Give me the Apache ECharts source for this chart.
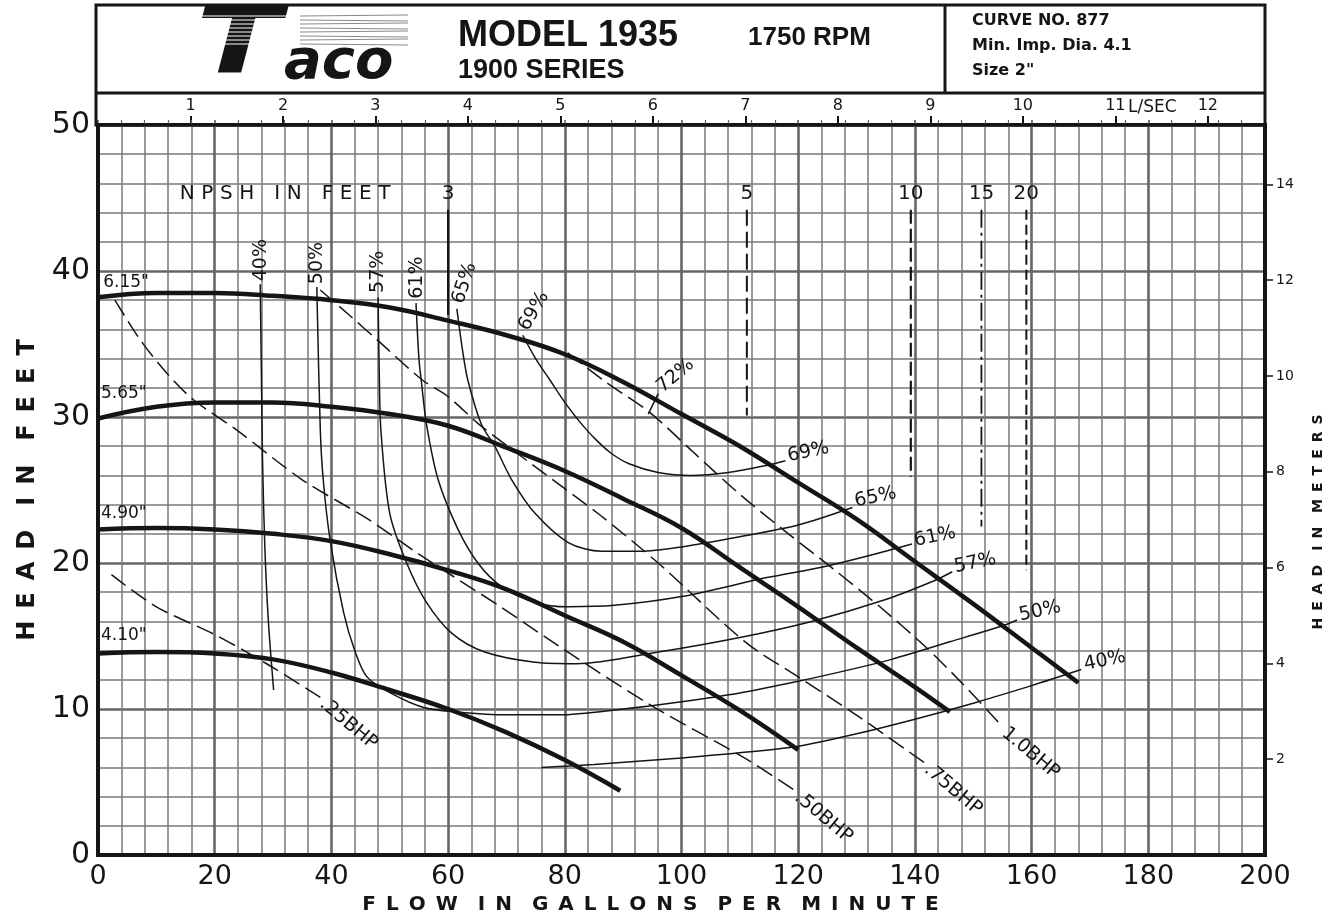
<!DOCTYPE html>
<html>
<head>
<meta charset="utf-8">
<title>Taco Model 1935 - Curve No. 877</title>
<script src="https://cdn.jsdelivr.net/npm/echarts@6/dist/echarts.min.js"></script>
<style>
  html, body { margin: 0; padding: 0; background: #fff; }
  #chart { width: 1338px; height: 923px; }
</style>
</head>
<body>
<div id="chart"></div>
<script>
// flow in US GPM, head in feet
const imp615 = [[0,38.2],[10,38.5],[20,38.5],[30,38.3],[40,38.0],[50,37.5],[60,36.6],[70,35.6],[80,34.3],[90,32.4],[100,30.2],[110,28.0],[120,25.5],[130,23.0],[140,20.1],[150,17.2],[160,14.2],[168,11.8]];
const imp565 = [[0,29.9],[10,30.7],[20,31.0],[30,31.0],[40,30.7],[50,30.2],[60,29.4],[70,27.9],[80,26.3],[90,24.4],[100,22.4],[110,19.7],[120,17.0],[130,14.2],[140,11.5],[146,9.8]];
const imp490 = [[0,22.3],[10,22.4],[20,22.3],[30,22.0],[40,21.5],[50,20.6],[60,19.5],[70,18.2],[80,16.4],[90,14.6],[100,12.3],[110,9.9],[120,7.2]];
const imp410 = [[0,13.8],[10,13.9],[20,13.8],[30,13.4],[40,12.5],[50,11.3],[60,10.0],[70,8.4],[80,6.5],[89.5,4.4]];

// efficiency lines
const eff40a = [[27.8,39.1],[28.0,33],[28.2,27],[28.6,21],[29.2,16],[30.1,11.3]];
const eff40b = [[76,6.0],[85,6.2],[100,6.65],[110,7.0],[120,7.45],[130,8.3],[140,9.3],[150,10.4],[160,11.6],[168.5,12.7]];
const eff50 = [[37.5,38.9],[38.1,29.1],[38.6,25.7],[39.8,21.5],[42.1,16.6],[44,14.0],[46.1,12.2],[50.1,11.1],[55.8,10.1],[61.5,9.8],[70,9.6],[79,9.6],[90,10.0],[100,10.5],[110,11.1],[120,11.9],[130,12.8],[136,13.4],[146,14.6],[155,15.7],[157.5,16.1]];
const eff57 = [[48,38.2],[48.2,33],[48.5,29],[50,23.4],[52.9,20.0],[56.3,17.3],[60.6,15.2],[66.3,13.9],[74.9,13.2],[82,13.1],[96,13.9],[110,14.9],[122.3,16.0],[135,17.5],[143.4,18.8],[146.4,19.4]];
const eff61 = [[54.5,37.8],[55.0,34],[55.4,32.5],[56.3,29.5],[58.3,25.7],[61.7,22.3],[65.1,20.0],[69.1,18.4],[74.9,17.3],[80.6,17.0],[88.5,17.1],[100,17.7],[114.6,19.0],[125,19.8],[139.5,21.3]];
const eff65 = [[61.5,37.4],[62.5,34.5],[63.4,32.5],[65.7,29.5],[68,28.0],[70.9,25.7],[74.9,23.4],[80.6,21.4],[86.3,20.8],[92.9,20.8],[100,21.1],[110,21.8],[120,22.6],[129.3,23.8]];
const eff69 = [[72.8,35.6],[75,34.0],[77.5,32.5],[80,31.0],[82.5,29.7],[85.2,28.5],[88,27.5],[91,26.8],[96,26.2],[101.6,26.0],[108,26.2],[114.8,26.7],[117.8,27.0]];
const eff72 = [[94.3,30.2],[96.0,31.6]];

// brake horsepower lines
const bhp25 = [[2.3,19.2],[10,17.0],[20,15.1],[28.9,13.1],[38.1,10.8]];
const bhp50 = [[2.9,38.0],[7.2,35.3],[11.8,33.0],[16.3,31.2],[23.8,29.1],[35,25.7],[46.3,23.0],[55,20.6],[69,17.0],[79,14.3],[95,10.2],[111,6.6],[119.5,4.4]];
const bhp75 = [[38.1,38.7],[43,37.0],[47.8,35.3],[55.7,32.5],[60,31.4],[65.3,29.5],[74.9,26.6],[86.3,23.2],[96,20.0],[110.9,14.6],[120,12.2],[130.3,9.5],[141.7,6.3]];
const bhp100 = [[80.5,34.4],[87,32.4],[94.6,30.3],[102,27.6],[110,24.7],[118,22.1],[126,19.6],[134,17.0],[141.7,14.3],[148,11.8],[155,8.8]];

// NPSH required (ft) marks
const npshNames = ['3', '5', '10', '15', '20'];
const npshFlow = [60, 111.2, 139.3, 151.4, 159.1];
const npshBottom = [37.0, 30.1, 25.9, 22.5, 19.5];
const npshTop = 44.2;
const npshLabelY = 45.3;

// text labels on the plot: [text, gpm, ft]
const impLabels = [['6.15"', 0.9, 39.2], ['5.65"', 0.5, 31.6], ['4.90"', 0.5, 23.4], ['4.10"', 0.5, 15.0]];
const effTopLabels = [['40%', 28.0, 39.3], ['50%', 37.6, 39.1], ['57%', 48.0, 38.5], ['61%', 54.6, 38.1], ['65%', 61.7, 37.8], ['69%', 72.9, 36.0], ['72%', 96.2, 31.9]];
const effEndLabels = [['69%', 118.2, 27.3], ['65%', 129.7, 24.2], ['61%', 139.9, 21.5], ['57%', 146.8, 19.7], ['50%', 157.9, 16.4], ['40%', 169.0, 13.0]];
const bhpLabels = [['.25BHP', 38.4, 10.5], ['.50BHP', 119.8, 4.1], ['.75BHP', 142.0, 6.0], ['1.0BHP', 155.3, 8.5]];
const npshTitle = ['NPSH IN FEET', 14.0, 45.3];

// axis tick labels
const lpsTicks = [1, 2, 3, 4, 5, 6, 7, 8, 9, 10, 11, 12];
const meterTicks = [2, 4, 6, 8, 10, 12, 14];

const GPM_PER_LPS = 15.8503;
const FT_TO_M = 0.3048;
const FONT = '"DejaVu Sans", sans-serif';
const INK = '#151515';

const spaced = (s, gap, wordGap) => s.split(' ').map(w => w.split('').join(gap)).join(wordGap);
const isTick = (list, v) => list.some(t => Math.abs(t - v) < 1e-6);

const chart = echarts.init(document.getElementById('chart'), null, { renderer: 'canvas' });

const line = (data, lineStyle, smooth) => ({
    type: 'line',
    data,
    symbol: 'none',
    showSymbol: false,
    smooth: smooth === undefined ? 0.3 : smooth,
    silent: true,
    z: 5,
    lineStyle: Object.assign({ color: INK, opacity: 1 }, lineStyle)
});

const labels = (items, opts) => ({
    type: 'scatter',
    symbolSize: 1,
    silent: true,
    z: 10,
    itemStyle: { color: '#fff', opacity: 0 },
    data: items.map((it, i) => ({
        value: [it[1], it[2]],
        label: {
            show: true,
            position: 'inside',
            formatter: it[0],
            rotate: Array.isArray(opts.rotate) ? opts.rotate[i] : (opts.rotate || 0),
            align: opts.align || 'left',
            verticalAlign: 'middle',
            fontFamily: FONT,
            fontSize: opts.size || 19,
            color: INK,
            opacity: 1,
            textBorderWidth: 0,
            textShadowBlur: 0
        }
    }))
});

const series = [];
[imp615, imp565, imp490, imp410].forEach(d => series.push(line(d, { width: 4.5 }, 0.4)));
[eff40a, eff40b, eff50, eff57, eff61, eff65, eff69].forEach(d => series.push(line(d, { width: 1.5 })));
series.push(line(eff72, { width: 1.5 }, false));
[bhp25, bhp50, bhp75, bhp100].forEach(d => series.push(line(d, { width: 1.5, type: [18, 7] })));

const npshStyles = [
    { width: 2.2 },
    { width: 2, type: [16, 6] },
    { width: 2.2, type: [14, 5] },
    { width: 1.8, type: [18, 5, 3, 5] },
    { width: 2, type: [10, 5] }
];
npshFlow.forEach((q, i) => {
    series.push(line([[q, npshTop], [q, npshBottom[i]]], npshStyles[i], false));
});

series.push(labels(impLabels, { size: 17 }));
series.push(labels(effTopLabels, { rotate: [90, 90, 90, 90, 72, 60, 40] }));
series.push(labels(effEndLabels, { rotate: 12 }));
series.push(labels(bhpLabels, { rotate: -40 }));
series.push(labels(npshNames.map((n, i) => [n, npshFlow[i], npshLabelY]), { align: 'center', size: 20 }));
series.push(labels([[spaced(npshTitle[0], '\u2004', '\u2003'), npshTitle[1], npshTitle[2]]], { size: 20 }));

const headerText = (text, x, y, size, weight, family) => ({
    type: 'text', x, y, z: 100,
    style: {
        text, fill: INK, fontSize: size, fontWeight: weight || 'normal',
        fontFamily: family || FONT, textAlign: 'left', textVerticalAlign: 'middle'
    }
});

const graphic = [
    { type: 'rect', z: 100, shape: { x: 96, y: 5, width: 1169, height: 120 }, style: { fill: 'none', stroke: INK, lineWidth: 3 } },
    { type: 'line', z: 100, shape: { x1: 96, y1: 93, x2: 1265, y2: 93 }, style: { stroke: INK, lineWidth: 3 } },
    { type: 'line', z: 100, shape: { x1: 945, y1: 5, x2: 945, y2: 93 }, style: { stroke: INK, lineWidth: 3 } },
    headerText('MODEL 1935', 458, 36, 36, 'bold', '"Liberation Sans", sans-serif'),
    headerText('1900 SERIES', 458, 71, 27, 'bold', '"Liberation Sans", sans-serif'),
    headerText('1750 RPM', 748, 38, 26, 'bold', '"Liberation Sans", sans-serif'),
    headerText('CURVE NO. 877', 972, 21, 16, 'bold'),
    headerText('Min. Imp. Dia. 4.1', 972, 46, 16, 'bold'),
    headerText('Size 2"', 972, 71, 16, 'bold'),
    headerText('L/SEC', 1128, 108, 17),
    {
        type: 'text', x: 196, y: 48, z: 100, scaleX: 1.35,
        style: { text: 'T', fill: INK, fontSize: 92, fontWeight: 'bold', fontStyle: 'italic', fontFamily: FONT, textVerticalAlign: 'middle' }
    },
    {
        type: 'text', x: 284, y: 63, z: 100,
        style: { text: 'aco', fill: INK, fontSize: 56, fontWeight: 'bold', fontStyle: 'italic', fontFamily: FONT, textVerticalAlign: 'middle' }
    }
];
// stripes of the logo banner
for (let k = 0; k < 8; k++) {
    const y = 16 + k * 4;
    graphic.push({ type: 'line', z: 101, shape: { x1: 200, y1: y, x2: 300, y2: y }, style: { stroke: '#fff', lineWidth: 1 } });
    graphic.push({ type: 'line', z: 100, shape: { x1: 300, y1: y, x2: 408, y2: y + (k % 2 ? 1 : -1) }, style: { stroke: '#8a8a8a', lineWidth: 1.2 } });
}

chart.setOption({
    animation: false,
    backgroundColor: '#fff',
    textStyle: { fontFamily: FONT, color: INK },
    grid: {
        left: 98, right: 73, top: 125, bottom: 68,
        show: true, borderColor: INK, borderWidth: 4,
        outerBoundsMode: 'none'
    },
    xAxis: [
        {
            type: 'value', position: 'bottom', min: 0, max: 200, interval: 20,
            name: spaced('FLOW IN GALLONS PER MINUTE', '\u2002', '\u2003'),
            nameLocation: 'middle', nameGap: 40,
            nameTextStyle: { fontFamily: FONT, fontSize: 20, fontWeight: 'bold', color: INK, padding: [0, 62, 0, 0] },
            axisLine: { show: true, onZero: false, lineStyle: { color: INK, width: 4 } },
            axisTick: { show: false },
            axisLabel: { fontFamily: FONT, fontSize: 27, color: INK, margin: 8 },
            splitLine: { show: true, lineStyle: { color: '#666', width: 2.6 } },
            minorTick: { show: false, splitNumber: 5 },
            minorSplitLine: { show: true, lineStyle: { color: '#7a7a7a', width: 1.5 } }
        },
        {
            type: 'value', position: 'top', min: 0, max: 200 / GPM_PER_LPS, interval: 1,
            axisLine: { show: false, onZero: false },
            axisTick: { show: true, length: 9, lineStyle: { color: INK, width: 2 } },
            axisLabel: {
                show: true, fontFamily: FONT, fontSize: 16, color: INK, margin: 11,
                showMinLabel: false, showMaxLabel: false,
                formatter: v => isTick(lpsTicks, v) ? String(Math.round(v)) : ''
            },
            splitLine: { show: false }
        },
        {
            type: 'value', position: 'top', min: 0, max: 200, interval: 20,
            axisLine: { show: false, onZero: false },
            axisTick: { show: true, length: 5, lineStyle: { color: '#555', width: 1.5 } },
            minorTick: { show: true, splitNumber: 5, length: 5, lineStyle: { color: '#666', width: 1.2 } },
            axisLabel: { show: false },
            splitLine: { show: false }
        }
    ],
    yAxis: [
        {
            type: 'value', position: 'left', min: 0, max: 50, interval: 10,
            name: spaced('HEAD IN FEET', '\u2002', '\u2003'),
            nameLocation: 'middle', nameGap: 58, nameRotate: 90,
            nameTextStyle: { fontFamily: FONT, fontSize: 24, fontWeight: 'bold', color: INK },
            axisLine: { show: true, onZero: false, lineStyle: { color: INK, width: 4 } },
            axisTick: { show: false },
            axisLabel: { fontFamily: FONT, fontSize: 30, color: INK, margin: 8 },
            splitLine: { show: true, lineStyle: { color: '#666', width: 2.6 } },
            minorTick: { show: false, splitNumber: 5 },
            minorSplitLine: { show: true, lineStyle: { color: '#7a7a7a', width: 1.5 } }
        },
        {
            type: 'value', position: 'right', min: 0, max: 50 * FT_TO_M, interval: 2,
            name: spaced('HEAD IN METERS', '\u2002', '\u2003'),
            nameLocation: 'middle', nameGap: 46, nameRotate: 90,
            nameTextStyle: { fontFamily: FONT, fontSize: 14, fontWeight: 'bold', color: INK, padding: [0, 64, 0, 0] },
            axisLine: { show: true, onZero: false, lineStyle: { color: INK, width: 4 } },
            axisTick: { show: true, length: 8, lineStyle: { color: INK, width: 1.5 } },
            axisLabel: {
                show: true, fontFamily: FONT, fontSize: 14, color: INK, margin: 11,
                showMinLabel: false, showMaxLabel: false,
                formatter: v => isTick(meterTicks, v) ? String(Math.round(v)) : ''
            },
            splitLine: { show: false }
        }
    ],
    graphic,
    series
});
</script>
</body>
</html>
